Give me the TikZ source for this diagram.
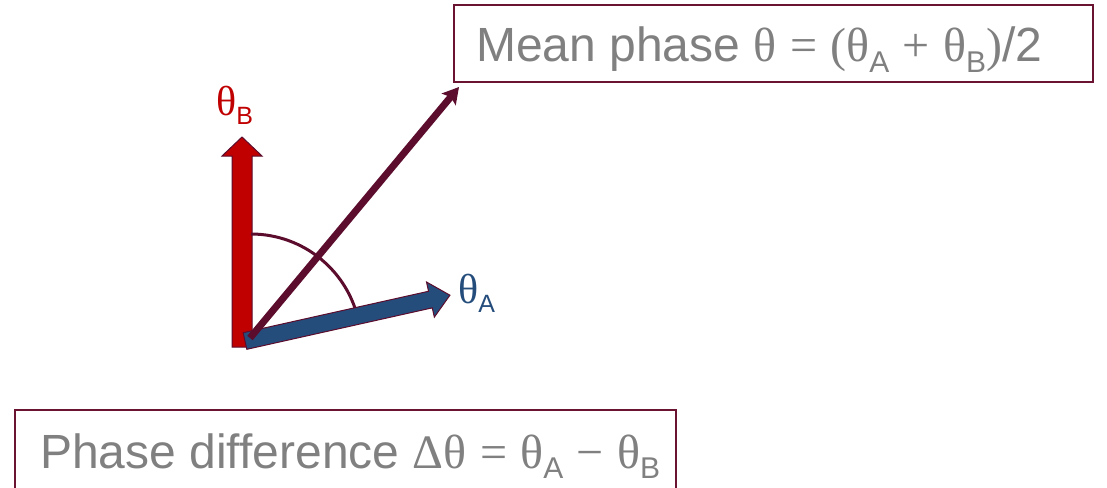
\documentclass[tikz,border=0pt]{standalone}
\usepackage{fontspec}
\setmainfont{Liberation Sans}
\newfontfamily\symf{Liberation Serif}
\usetikzlibrary{arrows.meta}
\definecolor{redA}{HTML}{C00000}
\definecolor{blueA}{HTML}{254D7C}
\definecolor{maroon}{HTML}{5C0C2C}
\definecolor{boxline}{HTML}{6A1432}
\definecolor{txtgray}{HTML}{808080}
\newcommand\thsub[2]{{\symf θ}\raisebox{-0.22em}{\fontsize{#2}{#2}\selectfont #1}}
\tikzset{
  blockarrow/.style={draw=maroon, line width=1pt, line join=miter},
  boxframe/.style={draw=boxline, line width=1.6pt},
  bigtext/.style={text=txtgray, inner sep=0pt, anchor=base west, font=\fontsize{48}{56}\selectfont},
}
\begin{document}
\begin{tikzpicture}[x=1pt,y=-1pt]
\useasboundingbox (0,0) rectangle (1107,487);
\clip (0,0) rectangle (1107,487);
% origin
\coordinate (O) at (243,345);
% red arrow theta_B
\begin{scope}[shift={(242,347)}, rotate=90]
  \fill[redA] (0,-10) -- (191,-10) -- (191,-20) -- (210,0) -- (191,20) -- (191,10) -- (0,10) -- cycle;
  \draw[blockarrow] (0,-10) -- (191,-10) -- (191,-20) -- (210,0) -- (191,20) -- (191,10) -- (0,10) -- cycle;
\end{scope}
% arc
\draw[maroon, line width=3pt] (251,234) arc[start angle=-90, end angle=-11, radius=110];
% blue arrow theta_A
\begin{scope}[shift={(245,341)}, rotate=12.6]
  \fill[blueA] (0,-8.5) -- (190,-8.5) -- (190,-18) -- (210,0) -- (190,18) -- (190,8.5) -- (0,8.5) -- cycle;
  \draw[blockarrow] (0,-8.5) -- (190,-8.5) -- (190,-18) -- (210,0) -- (190,18) -- (190,8.5) -- (0,8.5) -- cycle;
\end{scope}
% mean phase line
\coordinate (mtail) at (250,338);
\coordinate (mtip) at (459,87);
\draw[maroon, line width=7pt, -{Stealth[length=16pt,width=18pt,inset=3pt]}] (mtail) -- (mtip);
% labels
\node[text=redA, inner sep=0pt, anchor=base west, font=\fontsize{42}{46}\selectfont] (lB) at (216,115) {\thsub{B}{25}};
\node[text=blueA, inner sep=0pt, anchor=base west, font=\fontsize{42}{46}\selectfont] (lA) at (458,303) {\thsub{A}{25}};
% top box
\draw[boxframe] (454,5) rectangle (1093,82);
\node[bigtext] (mean) at (476,62) {Mean phase {\symf θ\;=\;(}\thsub{A}{30}{\symf\;+\;}\thsub{B}{30}{\symf )}/2};
% bottom box
\draw[boxframe] (15,410) rectangle (676,500);
\node[bigtext] (diff) at (40,468) {Phase difference {\symf Δθ\;=\;}\thsub{A}{30}{\symf\;−\;}\thsub{B}{30}};
\end{tikzpicture}
\end{document}
